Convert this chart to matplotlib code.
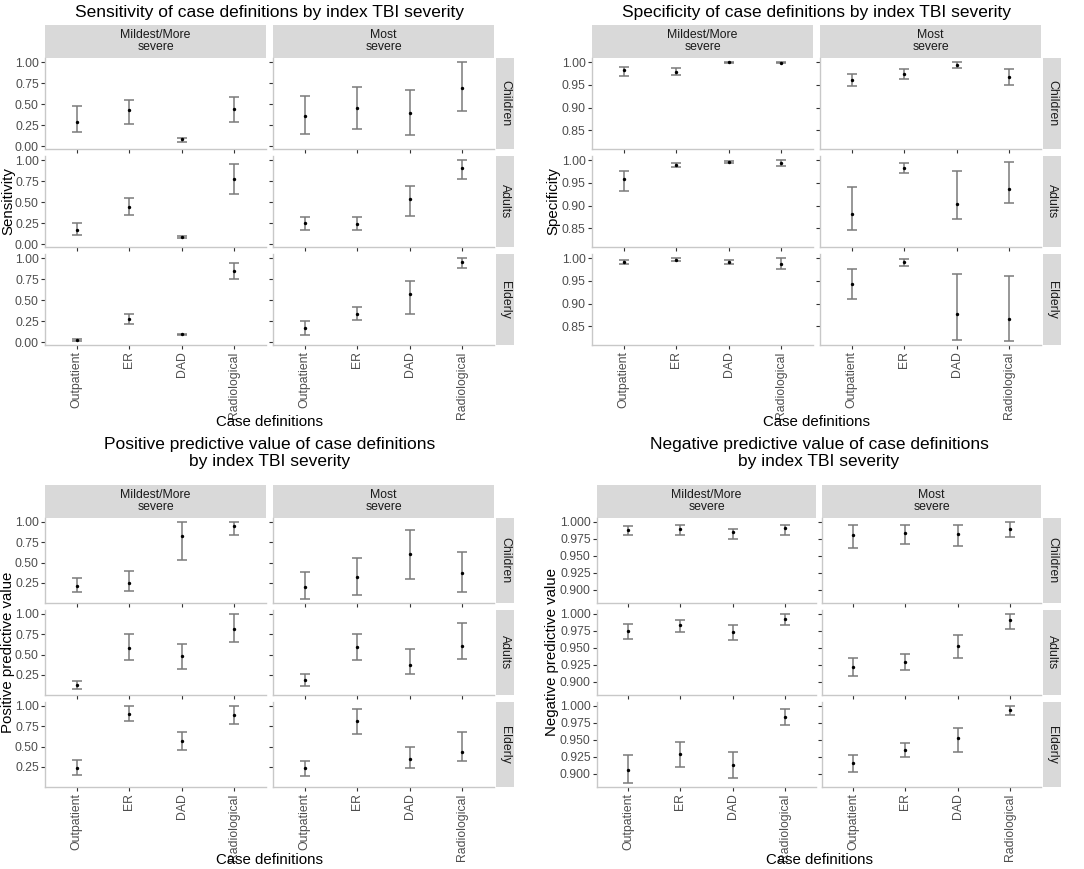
import numpy as np
import matplotlib.pyplot as plt

plt.rcParams['font.family'] = ['Liberation Sans', 'DejaVu Sans']

categories = ['Outpatient', 'ER', 'DAD', 'Radiological']
severities = ['Mildest/More\nsevere', 'Most\nsevere']
ages = ['Children', 'Adults', 'Elderly']

# values indexed [age][severity][case definition]
sens_est = [[[0.29, 0.43, 0.08, 0.44], [0.36, 0.45, 0.39, 0.69]],
            [[0.17, 0.44, 0.087, 0.77], [0.25, 0.245, 0.54, 0.91]],
            [[0.028, 0.28, 0.10, 0.85], [0.17, 0.34, 0.57, 0.95]]]
sens_lo = [[[0.17, 0.27, 0.045, 0.29], [0.15, 0.21, 0.13, 0.42]],
           [[0.115, 0.35, 0.07, 0.60], [0.17, 0.17, 0.34, 0.77]],
           [[0.016, 0.22, 0.09, 0.75], [0.08, 0.26, 0.34, 0.88]]]
sens_hi = [[[0.48, 0.55, 0.10, 0.59], [0.60, 0.70, 0.67, 1.00]],
           [[0.25, 0.55, 0.10, 0.95], [0.32, 0.32, 0.69, 1.00]],
           [[0.04, 0.33, 0.10, 0.94], [0.25, 0.42, 0.73, 1.00]]]

spec_est = [[[0.982, 0.978, 1.000, 0.999], [0.961, 0.974, 0.993, 0.967]],
            [[0.959, 0.990, 0.996, 0.993], [0.881, 0.983, 0.904, 0.937]],
            [[0.991, 0.997, 0.992, 0.988], [0.943, 0.992, 0.878, 0.865]]]
spec_lo = [[[0.969, 0.971, 0.999, 0.999], [0.947, 0.962, 0.987, 0.949]],
           [[0.932, 0.985, 0.994, 0.988], [0.846, 0.972, 0.871, 0.906]],
           [[0.987, 0.994, 0.988, 0.977], [0.910, 0.983, 0.820, 0.818]]]
spec_hi = [[[0.990, 0.987, 1.000, 1.000], [0.975, 0.984, 1.000, 0.986]],
           [[0.977, 0.994, 0.998, 1.000], [0.942, 0.993, 0.977, 0.997]],
           [[0.996, 1.000, 0.996, 1.000], [0.976, 0.998, 0.965, 0.961]]]

ppv_est = [[[0.217, 0.246, 0.825, 0.951], [0.205, 0.323, 0.608, 0.372]],
           [[0.124, 0.584, 0.478, 0.817], [0.181, 0.592, 0.376, 0.608]],
           [[0.238, 0.906, 0.572, 0.882], [0.238, 0.808, 0.343, 0.433]]]
ppv_lo = [[[0.140, 0.155, 0.527, 0.837], [0.050, 0.103, 0.302, 0.136]],
          [[0.075, 0.429, 0.323, 0.658], [0.112, 0.429, 0.258, 0.449]],
          [[0.148, 0.812, 0.454, 0.772], [0.140, 0.653, 0.242, 0.327]]]
ppv_hi = [[[0.307, 0.393, 1.000, 1.000], [0.384, 0.551, 0.902, 0.629]],
          [[0.177, 0.755, 0.629, 1.000], [0.258, 0.755, 0.571, 0.886]],
          [[0.331, 1.000, 0.682, 1.000], [0.327, 0.959, 0.490, 0.682]]]

npv_est = [[[0.988, 0.990, 0.985, 0.991], [0.980, 0.983, 0.982, 0.990]],
           [[0.975, 0.984, 0.973, 0.993], [0.922, 0.929, 0.952, 0.991]],
           [[0.906, 0.929, 0.913, 0.983], [0.915, 0.935, 0.952, 0.994]]]
npv_lo = [[[0.981, 0.980, 0.974, 0.981], [0.961, 0.967, 0.964, 0.977]],
          [[0.963, 0.973, 0.961, 0.984], [0.909, 0.917, 0.935, 0.977]],
          [[0.886, 0.910, 0.894, 0.972], [0.903, 0.924, 0.932, 0.986]]]
npv_hi = [[[0.994, 0.995, 0.990, 0.996], [0.995, 0.996, 0.996, 1.000]],
          [[0.985, 0.991, 0.983, 1.000], [0.935, 0.941, 0.969, 1.000]],
          [[0.928, 0.947, 0.932, 0.995], [0.927, 0.945, 0.968, 1.000]]]

W, H = 1084, 869
fig = plt.figure(figsize=(W / 100, H / 100), dpi=100)

STRIP = '#D9D9D9'
TICKC = '#4D4D4D'


def px_axes(l, t, r, b):
    return fig.add_axes([l / W, 1 - b / H, (r - l) / W, (b - t) / H])


def strip(l, t, r, b, label, rot=0):
    sa = px_axes(l, t, r, b)
    sa.set_facecolor(STRIP)
    sa.set_xticks([])
    sa.set_yticks([])
    for s in sa.spines.values():
        s.set_visible(False)
    sa.text(0.5, 0.5, label, transform=sa.transAxes, ha='center', va='center',
            rotation=rot, fontsize=8.8, color='#1A1A1A', linespacing=1.0)


def facet(est, lo, hi, cols, rows, strip_top, rstrip, yticks, fmt,
          title, title_y, ylabel, ylabel_x, xlabel_y):
    est, lo, hi = np.array(est), np.array(lo), np.array(hi)
    ymin, ymax = lo.min(), hi.max()
    pad = (ymax - ymin) * 0.05
    x = np.arange(1, len(categories) + 1)
    for j, (cl, cr) in enumerate(cols):
        strip(cl, strip_top, cr, rows[0][0], severities[j])
    for i, (rt, rb) in enumerate(rows):
        strip(rstrip[0], rt, rstrip[1], rb, ages[i], rot=-90)
        for j, (cl, cr) in enumerate(cols):
            ax = px_axes(cl, rt, cr, rb)
            ax.errorbar(x, est[i, j], yerr=[est[i, j] - lo[i, j], hi[i, j] - est[i, j]],
                        fmt='none', ecolor='#7A7A7A', elinewidth=1.1,
                        capsize=3.7, capthick=1.1)
            ax.scatter(x, est[i, j], s=6, color='black', linewidths=0, zorder=3)
            ax.set_xlim(0.4, len(categories) + 0.6)
            ax.set_ylim(ymin - pad, ymax + pad)
            ax.set_xticks(x)
            ax.set_yticks(yticks)
            for s in ['top', 'right']:
                ax.spines[s].set_visible(False)
            for s in ['left', 'bottom']:
                ax.spines[s].set_color('#C8C8C8')
                ax.spines[s].set_linewidth(1.0)
            ax.tick_params(length=3, width=0.8, color='#333333', pad=1.5,
                           labelcolor=TICKC, labelsize=8.8)
            if j == 0:
                ax.set_yticklabels([fmt % v for v in yticks])
            else:
                ax.set_yticklabels([])
            if i == len(rows) - 1:
                ax.set_xticklabels(categories, rotation=90)
            else:
                ax.set_xticklabels([])
    cx = (cols[0][0] + cols[-1][1]) / 2
    fig.text(cx / W, 1 - title_y / H, title, ha='center', va='center',
             fontsize=12.5, color='black', linespacing=1.1)
    cy = (rows[0][0] + rows[-1][1]) / 2
    fig.text(ylabel_x / W, 1 - cy / H, ylabel, rotation=90, ha='center',
             va='center', fontsize=10.8)
    fig.text(cx / W, 1 - xlabel_y / H, 'Case definitions', ha='center',
             va='center', fontsize=10.8)


top_rows = [(58, 149), (156, 247), (254, 345)]
bot_rows = [(518, 603), (610, 695), (702, 787)]

facet(sens_est, sens_lo, sens_hi, [(45, 266), (273, 494)], top_rows, 25,
      (496, 514), [0, 0.25, 0.5, 0.75, 1.0], '%.2f',
      'Sensitivity of case definitions by index TBI severity', 13,
      'Sensitivity', 8, 422)
facet(spec_est, spec_lo, spec_hi, [(592, 813), (820, 1041)], top_rows, 25,
      (1043, 1061), [0.85, 0.90, 0.95, 1.0], '%.2f',
      'Specificity of case definitions by index TBI severity', 13,
      'Specificity', 553, 422)
facet(ppv_est, ppv_lo, ppv_hi, [(45, 266), (273, 494)], bot_rows, 485,
      (496, 514), [0.25, 0.5, 0.75, 1.0], '%.2f',
      'Positive predictive value of case definitions\nby index TBI severity', 453,
      'Positive predictive value', 8, 860)
facet(npv_est, npv_lo, npv_hi, [(597, 816), (822, 1041)], bot_rows, 485,
      (1043, 1061), [0.900, 0.925, 0.950, 0.975, 1.0], '%.3f',
      'Negative predictive value of case definitions\nby index TBI severity', 453,
      'Negative predictive value', 552, 860)

fig.savefig('out.png', dpi=100, facecolor='white')
